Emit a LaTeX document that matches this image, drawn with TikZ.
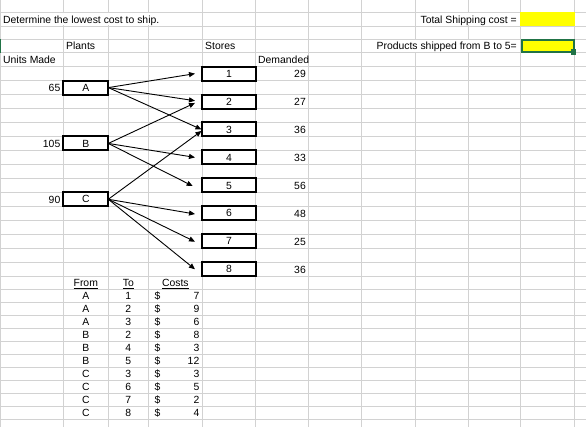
\documentclass[tikz,border=0pt]{standalone}
\usepackage{fontspec}
\setmainfont{Liberation Sans}
\usetikzlibrary{arrows.meta}
\definecolor{gridc}{RGB}{210,210,210}
\definecolor{xlgreen}{RGB}{33,115,70}
\definecolor{xlyellow}{RGB}{255,255,0}
\begin{document}
\begin{tikzpicture}[x=1pt,y=-1pt,font=\fontsize{10.4}{12}\selectfont,
  gridline/.style={gridc,line width=0.9pt},
  cellbox/.style={draw=black,line width=2pt,inner sep=0pt,outer sep=0pt,minimum height=13.96pt,text height=7.4pt,text depth=0pt,fill=white},
  plantbox/.style={cellbox,minimum width=45pt},
  storebox/.style={cellbox,minimum width=53.4pt},
  conn/.style={line width=0.9pt,-{Triangle[length=6pt,width=5pt]}},
  lbl/.style={inner sep=0pt,anchor=base west},
  num/.style={inner sep=0pt,anchor=base east},
  ctr/.style={inner sep=0pt,anchor=base}]
\useasboundingbox (0,0) rectangle (586,427);
\fill[white] (0,0) rectangle (586,427);
% grid
\foreach \y in {12.7,26,39.3,52.7,66.66,80.62,94.58,108.54,122.5,136.46,150.42,164.38,178.34,192.3,206.26,220.22,234.18,248.14,262.1,276.06,289.3,302.3,315.3,328.3,341.3,354.3,367.3,380.3,393.3,406.3,419.3}
  \draw[gridline] (0,\y) -- (586,\y);
\foreach \x in {0.5,63.3,108.3,148.3,202.3,255.7,308.3,361.7,415,468,520.7,574}
  \draw[gridline] (\x,0) -- (\x,427);
% overflow text hides grid lines
\fill[white] (1.2,13.2) rectangle (201.8,25.5);
\fill[white] (415.5,13.2) rectangle (520.2,25.5);
\fill[white] (362.2,39.8) rectangle (520.2,52.2);
% yellow cells
\fill[xlyellow] (520.2,12.2) rectangle (574.5,26.5);
\draw[xlgreen,line width=2pt,fill=xlyellow] (521.7,40.3) rectangle (574,51.7);
\fill[xlgreen] (571,49.5) rectangle (576.3,55);
\fill[xlgreen] (0,39.3) rectangle (1.3,52.7);
% plant boxes
\node[plantbox] (A) at (85.8,87.6) {A};
\node[plantbox] (B) at (85.8,143.44) {B};
\node[plantbox] (C) at (85.8,199.28) {C};
% store boxes
\node[storebox] (s1) at (229,73.64) {1};
\node[storebox] (s2) at (229,101.56) {2};
\node[storebox] (s3) at (229,129.48) {3};
\node[storebox] (s4) at (229,157.4) {4};
\node[storebox] (s5) at (229,185.32) {5};
\node[storebox] (s6) at (229,213.24) {6};
\node[storebox] (s7) at (229,241.16) {7};
\node[storebox] (s8) at (229,269.08) {8};
% connectors
\draw[conn] (A.east) -- ([shift={(-7.3,0)}]s1.west);
\draw[conn] (A.east) -- ([shift={(-7.3,-0.8)}]s2.west);
\draw[conn] (A.east) -- ([shift={(-0.8,0)}]s3.west);
\draw[conn] (B.east) -- ([shift={(-7.3,1.4)}]s2.west);
\draw[conn] (B.east) -- ([shift={(-7.3,0)}]s4.west);
\draw[conn] (B.east) -- ([shift={(-9.6,0.7)}]s5.west);
\draw[conn] (C.east) -- ([shift={(-0.8,1.5)}]s3.west);
\draw[conn] (C.east) -- ([shift={(-7.3,0.8)}]s6.west);
\draw[conn] (C.east) -- ([shift={(-7.3,0.5)}]s7.west);
\draw[conn] (C.east) -- ([shift={(-7.3,0.2)}]s8.west);
% texts
\node[lbl] (t1) at (3,23.4) {Determine the lowest cost to ship.};
\node[num] (t2) at (517,23.4) {Total Shipping cost =};
\node[lbl] (t3) at (66,49.9) {Plants};
\node[lbl] (t4) at (205,49.9) {Stores};
\node[num] (t5) at (517,49.9) {Products shipped from B to 5=};
\node[lbl] (t6) at (3,63.86) {Units Made};
\node[lbl] (t7) at (258,63.86) {Demanded};
\node[num] (u1) at (60.5,91.8) {65};
\node[num] (u2) at (60.5,147.6) {105};
\node[num] (u3) at (60.5,203.5) {90};
\node[num] (d1) at (306,77.8) {29};
\node[num] (d2) at (306,105.7) {27};
\node[num] (d3) at (306,133.7) {36};
\node[num] (d4) at (306,161.6) {33};
\node[num] (d5) at (306,189.5) {56};
\node[num] (d6) at (306,217.4) {48};
\node[num] (d7) at (306,245.3) {25};
\node[num] (d8) at (306,273.3) {36};
% table
\node[ctr] (hf) at (85.8,286.5) {\underline{From}};
\node[ctr] (ht) at (128.3,286.5) {\underline{To}};
\node[ctr] (hc) at (175.3,286.5) {\underline{Costs}};
\foreach \f/\t/\c [count=\i from 0] in {A/1/7,A/2/9,A/3/6,B/2/8,B/4/3,B/5/12,C/3/3,C/6/5,C/7/2,C/8/4}{
  \pgfmathsetmacro\yb{299.5+13*\i}
  \node[ctr] (f\i) at (85.8,\yb) {\f};
  \node[ctr] (to\i) at (128.3,\yb) {\t};
  \node[lbl] (dl\i) at (154.5,\yb) {\$};
  \node[num] (c\i) at (199.5,\yb) {\c};
}
\end{tikzpicture}
\end{document}
